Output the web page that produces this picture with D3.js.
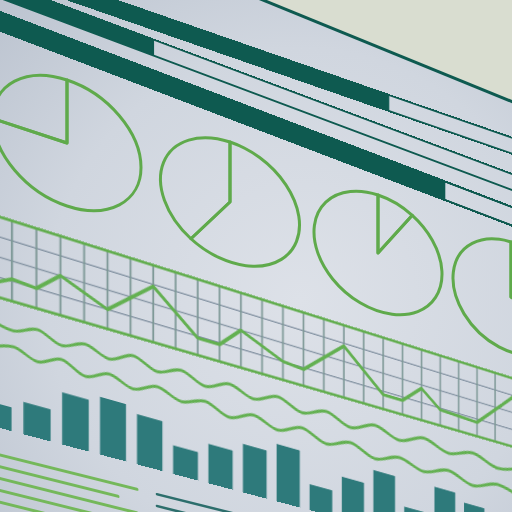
<!DOCTYPE html>
<html><head><meta charset="utf-8">
<script src="https://d3js.org/d3.v7.min.js"></script>
<style>
html,body{margin:0;padding:0;background:#c9d0db;}
#stage{position:relative;width:512px;height:512px;overflow:hidden;}
#stage svg{position:absolute;left:0;top:0;overflow:visible;transform-origin:0 0;}
</style></head><body><div id="stage"></div>
<script>
// ---------------- DATA ----------------
const progressValues = [73, 31, 83];              // top progress bars (% of track)
const pieShares = [[75, 25], [59.5, 40.5], [9, 91], [30, 70]];
const gridColumns = 26;
const gridRows = 4;
const lineCols = [0, 1, 2, 3, 5, 7, 9, 10, 11, 13, 14, 16, 18, 19, 20, 21, 23, 25];
const lineVals = [0.5, 1.1, 1.0, 2.0, 1.0, 2.9, 0.9, 0.9, 2.0, 1.0, 0.9, 2.85, 0.8, 0.8, 1.8, 0.9, 0.8, 2.9];
const waveA = [1, -4, 4, -5, 3, -5, 5, -4, 4, -5, 4, -4, 5, -4, 4, -5, 4, -4, 5, -3, 4, -4, 3];
const waveB = [-3, 4, -4, 5, -5, 4, -4, 5, -3, 4, -5, 4, -4, 5, -4, 4, -5, 3, -4, 4, -4, 4, -3];
const barValues = [30, 41, 67, 75, 66, 38, 53, 66, 79, 36, 59, 81, 41, 82, 71];
const textGreen = [137, 118, 137, 137, 110];
const textDark = [300, 290];

// ---------------- STYLE / LAYOUT ----------------
const C = {
  teal: '#0e5a50', barTeal: '#2e7a7b', green: '#5faa4b', gridGreen: '#62ad4e',
  lineGreen: '#63b051', textGreen: '#74b85a', gridGrey: '#8796a5', vGrid: '#7d9896',
  cream: '#d9ddd0'
};
const stage = d3.select('#stage');

function homography(W, H, q) {
  const [x0, y0] = q[0], [x1, y1] = q[1], [x2, y2] = q[2], [x3, y3] = q[3];
  const dx1 = x1 - x2, dx2 = x3 - x2, dx3 = x0 - x1 + x2 - x3;
  const dy1 = y1 - y2, dy2 = y3 - y2, dy3 = y0 - y1 + y2 - y3;
  const den = dx1 * dy2 - dx2 * dy1;
  const g = (dx3 * dy2 - dx2 * dy3) / den;
  const h = (dx1 * dy3 - dx3 * dy1) / den;
  const a = x1 - x0 + g * x1, b = x3 - x0 + h * x3, c = x0;
  const d = y1 - y0 + g * y1, e = y3 - y0 + h * y3, f = y0;
  return `matrix3d(${a / W},${d / W},0,${g / W},${b / H},${e / H},0,${h / H},0,0,1,0,${c},${f},0,1)`;
}
function layer(W, H, q) {
  return stage.append('svg').attr('width', W).attr('height', H)
    .style('transform', q ? homography(W, H, q) : 'none');
}

// ---------------- BACKGROUND ----------------
const bg = layer(512, 512, null);
const defs = bg.append('defs');
const rg = defs.append('radialGradient').attr('id', 'paper')
  .attr('cx', 300).attr('cy', 300).attr('r', 420).attr('gradientUnits', 'userSpaceOnUse');
rg.append('stop').attr('offset', 0).attr('stop-color', '#dde1e8');
rg.append('stop').attr('offset', 0.6).attr('stop-color', '#d0d6df');
rg.append('stop').attr('offset', 1).attr('stop-color', '#bcc4d0');
bg.append('rect').attr('width', 512).attr('height', 512).attr('fill', 'url(#paper)');
bg.append('path').attr('d', 'M263,0 L540,0 L540,113 Z').attr('fill', C.cream);
bg.append('line').attr('x1', 258).attr('y1', -2).attr('x2', 540).attr('y2', 113)
  .attr('stroke', C.teal).attr('stroke-width', 3);

// ---------------- PROGRESS BARS ----------------
// each track: [top-left, top-right] of its parallelogram and its thickness
const barTracks = [
  { l: [-20, -46.9], r: [540, 147.4], t: 16 },
  { l: [-20, -25.5], r: [540, 184.5], t: 16 },
  { l: [-20, 4.4], r: [540, 217.7], t: 18.5 }
];
const pW = 560, pH = 16;
const px = d3.scaleLinear().domain([0, 100]).range([0, pW]);
progressValues.forEach((v, i) => {
  const tr = barTracks[i];
  const q = [tr.l, tr.r, [tr.r[0], tr.r[1] + tr.t], [tr.l[0], tr.l[1] + tr.t]];
  const s = layer(pW, pH, q);
  s.append('rect').attr('x', px(0)).attr('y', 0).attr('width', px(100) - px(0)).attr('height', pH)
    .attr('fill', 'none').attr('stroke', C.teal).attr('stroke-width', 2);
  s.append('rect').attr('x', px(0)).attr('y', 0).attr('width', px(v) - px(0)).attr('height', pH)
    .attr('fill', C.teal).attr('stroke', C.teal).attr('stroke-width', 1);
});

// ---------------- PIES ----------------
const pieLayout = [
  { cx: 67, cy: 143, rx: 74, sy: 63 },
  { cx: 230, cy: 202, rx: 69.5, sy: 60 },
  { cx: 378, cy: 253, rx: 64, sy: 58 },
  { cx: 511, cy: 297, rx: 58, sy: 55 }
];
const R = 100, shear = 0.33;
const arc = d3.arc().innerRadius(0).outerRadius(R);
const pieGen = d3.pie().sort(null);
const pieSvg = layer(512, 512, null);
pieShares.forEach((sh, i) => {
  const p = pieLayout[i];
  const g = pieSvg.append('g')
    .attr('transform', `matrix(${p.rx / R},${shear * p.rx / R},0,${p.sy / R},${p.cx},${p.cy})`);
  g.selectAll('path').data(pieGen(sh)).join('path')
    .attr('d', arc).attr('fill', 'none').attr('stroke', C.green)
    .attr('stroke-width', 3).attr('vector-effect', 'non-scaling-stroke')
    .attr('stroke-linejoin', 'round');
});

// ---------------- GRID LINE CHART ----------------
const gW = 543, gH = 81;
const gq = [[-12.8, 213], [530.5, 384], [530.5, 451.8], [-12.8, 294]];
const gs = layer(gW, gH, gq);
const gx = d3.scaleLinear().domain([0, gridColumns]).range([0, gW]);
const gy = d3.scaleLinear().domain([0, gridRows]).range([gH, 0]);
gs.selectAll('line.h').data(d3.range(1, gridRows)).join('line').attr('class', 'h')
  .attr('x1', gx(0)).attr('x2', gx(gridColumns)).attr('y1', gy).attr('y2', gy)
  .attr('stroke', C.gridGrey).attr('stroke-width', 1.6);
gs.selectAll('line.v').data(d3.range(gridColumns + 1)).join('line').attr('class', 'v')
  .attr('x1', gx).attr('x2', gx).attr('y1', gy(0)).attr('y2', gy(gridRows))
  .attr('stroke', C.vGrid).attr('stroke-width', 1.7);
gs.selectAll('line.b').data([0, gridRows]).join('line').attr('class', 'b')
  .attr('x1', gx(0)).attr('x2', gx(gridColumns)).attr('y1', gy).attr('y2', gy)
  .attr('stroke', C.gridGreen).attr('stroke-width', 3.2);
gs.append('path').datum(lineVals)
  .attr('d', d3.line().x((d, i) => gx(lineCols[i])).y(d => gy(d)))
  .attr('fill', 'none').attr('stroke', C.lineGreen).attr('stroke-width', 3.4)
  .attr('stroke-linejoin', 'round');

// ---------------- WAVES ----------------
const wW = 532, wH = 60;
const wq = [[-10, 302.2], [522, 452.7], [522, 513.8], [-10, 362.2]];
const ws = layer(wW, wH, wq);
const wx = d3.scaleLinear().domain([0, waveA.length - 1]).range([0, wW]);
const wyA = d3.scaleLinear().domain([0, 1]).range([18, 17]);
const wyB = d3.scaleLinear().domain([0, 1]).range([42, 41]);
[[waveA, wyA], [waveB, wyB]].forEach(([w, sc]) => {
  ws.append('path').datum(w)
    .attr('d', d3.line().x((d, i) => wx(i)).y(d => sc(d)).curve(d3.curveCatmullRom))
    .attr('fill', 'none').attr('stroke', C.lineGreen).attr('stroke-width', 3);
});

// ---------------- BAR CHART ----------------
const bW = 511, bH = 80;
const bq = [[-22.4, 342.1], [488.7, 490], [488.7, 557.5], [-22.4, 422.1]];
const bs = layer(bW, bH, bq);
const bx = d3.scaleBand().domain(d3.range(barValues.length)).range([0, bW])
  .paddingInner(0.3).paddingOuter(0.15);
const by = d3.scaleLinear().domain([0, 100]).range([bH, 0]);
bs.selectAll('rect').data(barValues).join('rect')
  .attr('x', (d, i) => bx(i)).attr('width', bx.bandwidth())
  .attr('y', d => by(d)).attr('height', d => by(0) - by(d))
  .attr('fill', C.barTeal);

// ---------------- TEXT LINES ----------------
const ts = layer(512, 512, null);
const tg = ts.append('g').attr('transform', 'matrix(1,0.25,0,1,0,455)');
const tx = d3.scaleLinear().domain([0, 512]).range([0, 512]);
const ty = d3.scaleLinear().domain([0, 1]).range([0, 11.8]);
tg.selectAll('line.g').data(textGreen).join('line').attr('class', 'g')
  .attr('x1', tx(-10)).attr('x2', d => tx(d)).attr('y1', (d, i) => ty(i)).attr('y2', (d, i) => ty(i))
  .attr('stroke', C.textGreen).attr('stroke-width', 3).attr('stroke-linecap', 'round');
tg.selectAll('line.d').data(textDark).join('line').attr('class', 'd')
  .attr('x1', tx(157)).attr('x2', d => tx(d)).attr('y1', (d, i) => ty(i)).attr('y2', (d, i) => ty(i))
  .attr('stroke', '#2c6e6c').attr('stroke-width', 2.6).attr('stroke-linecap', 'round');
</script></body></html>
